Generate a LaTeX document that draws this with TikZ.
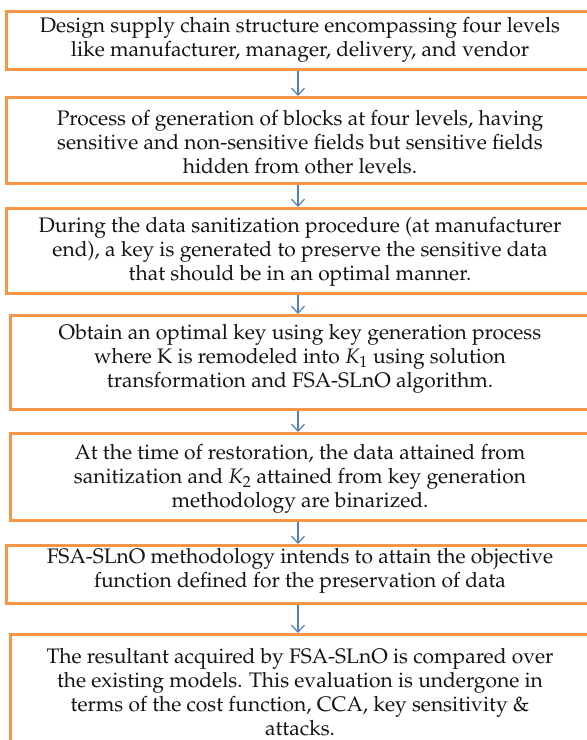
\documentclass[tikz,border=0pt]{standalone}
\usepackage[T1]{fontenc}
\usepackage{mathpazo}
\usetikzlibrary{arrows.meta}
\definecolor{boxorange}{HTML}{F79646}
\definecolor{arrowblue}{HTML}{4F81BD}
\definecolor{txt}{HTML}{141414}
\tikzset{
  stepframe/.style={draw=boxorange, line width=3pt, fill=white, rectangle, inner sep=0pt},
  steptext/.style={align=center, text=txt, inner sep=0pt, font=\fontsize{21}{24}\selectfont},
  flowarrow/.style={draw=arrowblue, line width=1.2pt, -{Straight Barb[length=7pt,width=13pt,line width=1.2pt]}}
}
\begin{document}
\begin{tikzpicture}[x=1pt,y=-1pt]
\useasboundingbox (0,0) rectangle (587,740);
\clip (0,0) rectangle (587,740);
% frames (they run past the right edge of the picture)
\node[stepframe, minimum width=605, minimum height=58, anchor=north west] (b1) at (5,10) {};
\node[stepframe, minimum width=605, minimum height=86, anchor=north west] (b2) at (5,96) {};
\node[stepframe, minimum width=605, minimum height=85, anchor=north west] (b3) at (5,207) {};
\node[stepframe, minimum width=601, minimum height=94, anchor=north west] (b4) at (9,314) {};
\node[stepframe, minimum width=601, minimum height=87, anchor=north west] (b5) at (9,432) {};
\node[stepframe, minimum width=605, minimum height=58, anchor=north west] (b6) at (5,544) {};
\node[stepframe, minimum width=601, minimum height=140, anchor=north west] (b7) at (9,633) {};
% texts
\node[steptext] (t1) at (300,40) {Design supply chain structure encompassing four levels\\like manufacturer, manager, delivery, and vendor};
\node[steptext] (t2) at (300,142) {Process of generation of blocks at four levels, having\\sensitive and non-sensitive fields but sensitive fields\\hidden from other levels.};
\node[steptext] (t3) at (300,252) {During the data sanitization procedure (at manufacturer\\end), a key is generated to preserve the sensitive data\\that should be in an optimal manner.};
\node[steptext] (t4) at (300,359) {Obtain an optimal key using key generation process\\where K is remodeled into $K_1$ using solution\\transformation and FSA-SLnO algorithm.};
\node[steptext] (t5) at (300,479) {At the time of restoration, the data attained from\\sanitization and $K_2$ attained from key generation\\methodology are binarized.};
\node[steptext] (t6) at (300,571) {FSA-SLnO methodology intends to attain the objective\\function defined for the preservation of data};
\node[steptext] (t7) at (300,692) {The resultant acquired by FSA-SLnO is compared over\\the existing models. This evaluation is undergone in\\terms of the cost function, CCA, key sensitivity \&\\attacks.};
% connectors
\draw[flowarrow] (b1.south -| 298,0) -- (b2.north -| 298,0);
\draw[flowarrow] (b2.south -| 298,0) -- (b3.north -| 298,0);
\draw[flowarrow] (b3.south -| 298,0) -- (b4.north -| 298,0);
\draw[flowarrow] (b4.south -| 298,0) -- (b5.north -| 298,0);
\draw[flowarrow] (b5.south -| 298,0) -- (b6.north -| 298,0);
\draw[flowarrow] (b6.south -| 298,0) -- (b7.north -| 298,0);
\end{tikzpicture}
\end{document}
